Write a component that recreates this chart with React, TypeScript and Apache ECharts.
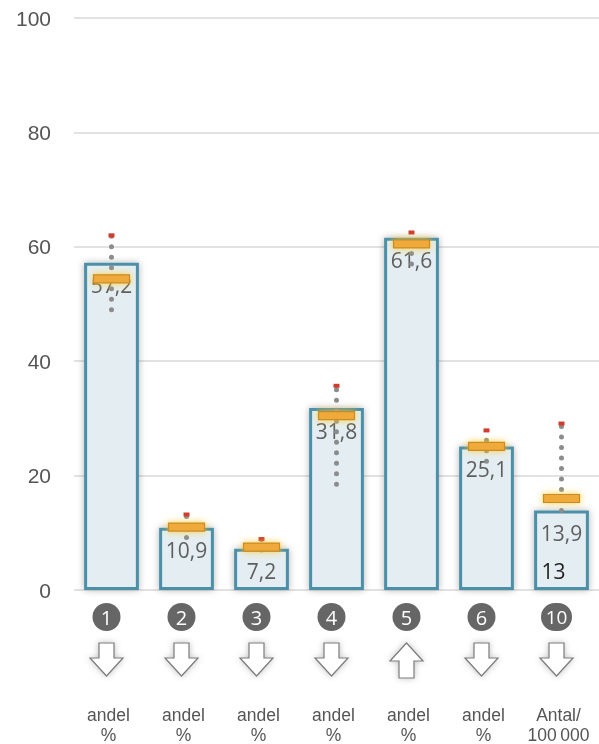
import React, { useEffect, useRef } from "react";
import * as echarts from "echarts";

const categories = ["1", "2", "3", "4", "5", "6", "10"];
const units = ["andel\n%", "andel\n%", "andel\n%", "andel\n%", "andel\n%", "andel\n%", "Antal/\n100\u2009000"];
const values = [57.2, 10.9, 7.2, 31.8, 61.6, 25.1, 13.9];
const markerValues = [54.4, 11.0, 7.5, 30.5, 60.5, 25.1, 16.0];
const rangeMin = [49.0, 9.2, 7.0, 18.5, 57.0, 22.5, 13.9];
const rangeMax = [62.0, 13.2, 8.9, 35.7, 62.5, 27.9, 29.1];
const directions = ["down", "down", "down", "down", "up", "down", "down"];
const extraLabels = ["", "", "", "", "", "", "13"];
const yTicks = [0, 20, 40, 60, 80, 100];

const fmt = (v: number) => String(v).replace(".", ",");

export default function App() {
  const ref = useRef<HTMLDivElement>(null);
  useEffect(() => {
    const chart = echarts.init(ref.current!, undefined, { renderer: "svg" });
    const option: any = {
      animation: false,
      grid: { left: 74, right: 0, top: 18, bottom: 152, containLabel: false },
      xAxis: {
        type: "category",
        data: categories,
        axisLine: { show: false },
        axisTick: { show: false },
        axisLabel: {
          margin: 13,
          interval: 0,
          formatter: (v: string, i: number) => {
            const u = units[i].split("\n");
            return `{c${v.length > 1 ? "w" : ""}|${v}}{g|}\n{sp|}\n{u|${u[0]}}{h|}\n{u|${u[1]}}{h|}`;
          },
          rich: {
            c: {
              backgroundColor: "#666666",
              borderRadius: 14,
              width: 28,
              height: 28,
              lineHeight: 28,
              align: "center",
              color: "#ffffff",
              fontSize: 20,
              fontFamily: "Open Sans",
            },
            cw: {
              backgroundColor: "#666666",
              borderRadius: 14,
              width: 31,
              height: 28,
              lineHeight: 28,
              align: "center",
              color: "#ffffff",
              fontSize: 19,
              fontFamily: "Open Sans",
            },
            g: { width: 10, height: 28 },
            h: { width: 6, height: 20 },
            sp: { height: 74, lineHeight: 74 },
            u: {
              fontSize: 17.5,
              lineHeight: 20,
              color: "#555555",
              fontFamily: "Liberation Sans",
            },
          },
        },
      },
      yAxis: {
        type: "value",
        min: 0,
        max: 100,
        interval: 20,
        axisLine: { show: false },
        axisTick: { show: false },
        splitLine: { lineStyle: { color: "#d9d9d9", width: 1.5 } },
        axisLabel: {
          margin: 23,
          fontSize: 21,
          color: "#555555",
          fontFamily: "Liberation Sans",
          formatter: (v: number) => (yTicks.includes(v) ? String(v) : ""),
        },
      },
      series: [
        {
          type: "bar",
          data: values,
          barCategoryGap: "27%",
          itemStyle: {
            color: "#e4eef2",
            borderColor: "#4b8fa9",
            borderWidth: 3,
            shadowBlur: 7,
            shadowColor: "rgba(0,0,0,0.3)",
          },
          label: {
            show: true,
            position: "insideTop",
            distance: 12,
            fontSize: 21,
            color: "#5e5e5e",
            fontFamily: "Open Sans",
            formatter: (p: any) => fmt(p.value),
          },
          z: 2,
        },
        {
          type: "custom",
          clip: false,
          z: 5,
          data: categories.map((_, i) => [i, rangeMin[i], rangeMax[i]]),
          encode: { x: 0, y: [1, 2] },
          renderItem: (params: any, api: any) => {
            const i = api.value(0);
            const p1 = api.coord([i, api.value(1)]);
            const p2 = api.coord([i, api.value(2)]);
            return {
              type: "group",
              children: [
                {
                  type: "line",
                  shape: { x1: p1[0], y1: p1[1], x2: p2[0], y2: p2[1] },
                  style: {
                    stroke: "#8c8c8c",
                    lineWidth: 5,
                    lineCap: "round",
                    lineDash: [0, 10.5],
                  },
                },
                {
                  type: "rect",
                  shape: { x: p2[0] - 3, y: p2[1] - 2, width: 6, height: 4 },
                  style: { fill: "#d23a2e" },
                },
              ],
            };
          },
        },
        {
          type: "custom",
          clip: false,
          z: 6,
          data: categories.map((_, i) => [i, markerValues[i]]),
          encode: { x: 0, y: 1 },
          renderItem: (params: any, api: any) => {
            const p = api.coord([api.value(0), api.value(1)]);
            return {
              type: "rect",
              shape: { x: p[0] - 18, y: p[1] - 4, width: 36, height: 8 },
              style: {
                fill: "#f0a93a",
                stroke: "#c98c22",
                lineWidth: 1.2,
                shadowBlur: 7,
                shadowColor: "rgba(255,200,40,0.9)",
              },
            };
          },
        },
        {
          type: "custom",
          clip: false,
          z: 4,
          data: categories.map((_, i) => [i, 0]),
          encode: { x: 0, y: 1 },
          renderItem: (params: any, api: any) => {
            const i = api.value(0);
            const p = api.coord([i, 0]);
            const txt = extraLabels[i];
            if (!txt) return { type: "group", children: [] };
            return {
              type: "text",
              x: p[0] - 20,
              y: p[1] - 19,
              style: {
                text: txt,
                fill: "#222222",
                fontSize: 21,
                fontFamily: "Open Sans",
                verticalAlign: "middle",
              },
            };
          },
        },
        {
          type: "custom",
          clip: false,
          z: 4,
          data: categories.map((_, i) => [i, 0]),
          encode: { x: 0, y: 1 },
          renderItem: (params: any, api: any) => {
            const i = api.value(0);
            const p = api.coord([i, 0]);
            const cx = p[0] - 5;
            const y0 = p[1] + 53;
            const down = [
              [-7.5, 0], [7.5, 0], [7.5, 15], [16.5, 15], [0, 33], [-16.5, 15], [-7.5, 15],
            ];
            const up = [
              [-7.5, 35], [7.5, 35], [7.5, 18], [16.5, 18], [0, 0], [-16.5, 18], [-7.5, 18],
            ];
            const pts = (directions[i] === "up" ? up : down).map((q) => [cx + q[0], y0 + q[1]]);
            return {
              type: "polygon",
              shape: { points: pts },
              style: {
                fill: "#ffffff",
                stroke: "#7a7a7a",
                lineWidth: 1.2,
                shadowBlur: 6,
                shadowColor: "rgba(0,0,0,0.25)",
              },
            };
          },
        },
      ],
    };
    chart.setOption(option);
    return () => chart.dispose();
  }, []);
  return (
    <div
      ref={ref}
      style={{ position: "fixed", left: 0, top: 0, width: 599, height: 744 }}
    />
  );
}
